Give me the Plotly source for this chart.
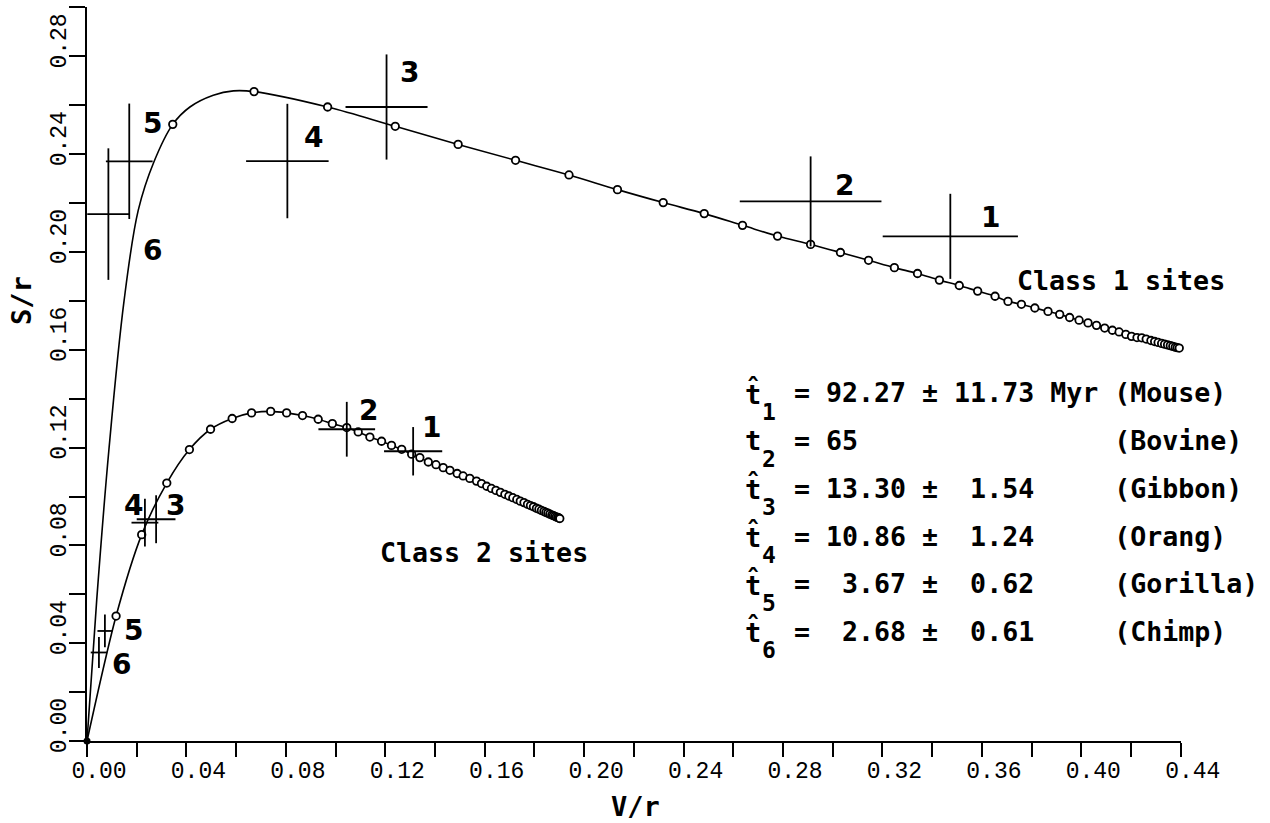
import plotly.graph_objects as go

NB = "\u00a0"

# ---------------- data ----------------
# Class 1 fitted curve: leading (non-marked) points
c1_lead_v = [0.0, 0.0039, 0.0088, 0.0149, 0.0206, 0.0269, 0.0414, 0.0508, 0.0589]
c1_lead_s = [0.0, 0.0575, 0.1190, 0.1800, 0.2170, 0.2368, 0.2593, 0.2641, 0.2659]
# Class 1 circles
c1_v = [0.0345, 0.0672, 0.0968, 0.1240, 0.1493, 0.1724, 0.1939, 0.2134, 0.2318, 0.2483,
        0.2637, 0.2778, 0.2911, 0.3031, 0.3144, 0.3248, 0.3341, 0.3429, 0.3509, 0.3583,
        0.3653, 0.3705, 0.3759, 0.3813, 0.3866, 0.3913, 0.3953, 0.3991, 0.4027, 0.4061,
        0.4094, 0.4125, 0.4152, 0.4179, 0.4202, 0.4224, 0.4243, 0.4261, 0.4280, 0.4295,
        0.4309, 0.4323, 0.4335, 0.4347, 0.4358, 0.4368, 0.4378, 0.4386, 0.4394, 0.4402,
        0.4408, 0.4414, 0.4420, 0.4424, 0.4428, 0.4432, 0.4436]
c1_s = [0.2522, 0.2656, 0.2593, 0.2514, 0.2440, 0.2375, 0.2315, 0.2255, 0.2202, 0.2157,
        0.2109, 0.2065, 0.2031, 0.1998, 0.1966, 0.1936, 0.1912, 0.1885, 0.1863, 0.1840,
        0.1819, 0.1798, 0.1786, 0.1771, 0.1757, 0.1745, 0.1732, 0.1721, 0.1710, 0.1700,
        0.1689, 0.1680, 0.1673, 0.1663, 0.1655, 0.1650, 0.1649, 0.1644, 0.1638, 0.1634,
        0.1630, 0.1626, 0.1623, 0.1620, 0.1617, 0.1614, 0.1611, 0.1609, 0.1607, 0.1604,
        0.1603, 0.1601, 0.1599, 0.1598, 0.1597, 0.1596, 0.1595]

# Class 2 circles
c2_v = [0.0117, 0.0220, 0.0321, 0.0412, 0.0497, 0.0584, 0.0662, 0.0739, 0.0803, 0.0867,
        0.0930, 0.0987, 0.1045, 0.1091, 0.1138, 0.1185, 0.1225, 0.1266, 0.1306, 0.1339,
        0.1373, 0.1404, 0.1433, 0.1460, 0.1489, 0.1513, 0.1540, 0.1567, 0.1587, 0.1608,
        0.1627, 0.1645, 0.1663, 0.1681, 0.1697, 0.1713, 0.1729, 0.1743, 0.1758, 0.1772,
        0.1784, 0.1796, 0.1808, 0.1818, 0.1828, 0.1838, 0.1846, 0.1854, 0.1862, 0.1870,
        0.1876, 0.1882, 0.1888, 0.1894, 0.1898, 0.1902]
c2_s = [0.0511, 0.0844, 0.1055, 0.1192, 0.1275, 0.1319, 0.1342, 0.1348, 0.1342, 0.1331,
        0.1316, 0.1298, 0.1282, 0.1264, 0.1243, 0.1226, 0.1209, 0.1193, 0.1173, 0.1159,
        0.1141, 0.1130, 0.1118, 0.1107, 0.1094, 0.1084, 0.1074, 0.1063, 0.1053, 0.1042,
        0.1033, 0.1025, 0.1017, 0.1009, 0.1002, 0.0995, 0.0988, 0.0981, 0.0975, 0.0968,
        0.0963, 0.0958, 0.0952, 0.0948, 0.0943, 0.0939, 0.0935, 0.0932, 0.0928, 0.0924,
        0.0922, 0.0919, 0.0916, 0.0914, 0.0912, 0.0910]

# Observed points (crosses) with errors, labels 1..6
pt_labels = ["1", "2", "3", "4", "5", "6"]
c1_pt_v = [0.3473, 0.2911, 0.1205, 0.0806, 0.0170, 0.0086]
c1_pt_s = [0.2064, 0.2207, 0.2593, 0.2372, 0.2371, 0.2155]
c1_pt_dv = [0.0272, 0.0285, 0.0165, 0.0166, 0.0094, 0.0085]
c1_pt_ds = [0.0174, 0.0184, 0.0215, 0.0234, 0.0236, 0.0269]
c1_lab_v = [0.3634, 0.3046, 0.1296, 0.0910, 0.0263, 0.0263]
c1_lab_s = [0.2143, 0.2273, 0.2736, 0.2470, 0.2525, 0.2007]

c2_pt_v = [0.1312, 0.1045, 0.0278, 0.0233, 0.0072, 0.0048]
c2_pt_s = [0.1185, 0.1275, 0.0907, 0.0893, 0.0450, 0.0362]
c2_pt_dv = [0.0117, 0.0114, 0.0078, 0.0054, 0.0030, 0.0033]
c2_pt_ds = [0.0099, 0.0112, 0.0098, 0.0098, 0.0067, 0.0063]
c2_lab_v = [0.1386, 0.1131, 0.0358, 0.0186, 0.0189, 0.0140]
c2_lab_s = [0.1284, 0.1353, 0.0964, 0.0964, 0.0450, 0.0314]

# Estimates table
est_symbols = ["t\u0302", "t", "t\u0302", "t\u0302", "t\u0302", "t\u0302"]
est_subs = ["1", "2", "3", "4", "5", "6"]
est_rows = [
    "= 92.27 ± 11.73 Myr (Mouse)",
    "= 65                (Bovine)",
    "= 13.30 ±  1.54     (Gibbon)",
    "= 10.86 ±  1.24     (Orang)",
    "=  3.67 ±  0.62     (Gorilla)",
    "=  2.68 ±  0.61     (Chimp)",
]
row_s = [0.1424, 0.1230, 0.1034, 0.0837, 0.0643, 0.0448]
sub_s = [0.1346, 0.1152, 0.0956, 0.0760, 0.0565, 0.0371]

x_ticks = [0.00, 0.04, 0.08, 0.12, 0.16, 0.20, 0.24, 0.28, 0.32, 0.36, 0.40, 0.44]
y_ticks = [0.00, 0.04, 0.08, 0.12, 0.16, 0.20, 0.24, 0.28]

# ---------------- figure ----------------
TXT = "DejaVu Sans Mono"
fig = go.Figure()

def curve(lead_v, lead_s, v, s):
    pts = sorted(zip(lead_v + v, lead_s + s))
    return [p[0] for p in pts], [p[1] for p in pts]

lv, ls = curve(c1_lead_v, c1_lead_s, c1_v, c1_s)
fig.add_trace(go.Scatter(x=lv, y=ls, mode="lines", line=dict(color="black", width=1.6, shape="spline", smoothing=1.0),
                         hoverinfo="skip"))
lv2, ls2 = curve([0.0], [0.0], c2_v, c2_s)
fig.add_trace(go.Scatter(x=lv2, y=ls2, mode="lines", line=dict(color="black", width=1.6, shape="spline", smoothing=0.8),
                         hoverinfo="skip"))

for v, s in ((c1_v, c1_s), (c2_v, c2_s)):
    fig.add_trace(go.Scatter(x=v, y=s, mode="markers", cliponaxis=False,
                             marker=dict(symbol="circle", size=7.5, color="white",
                                         line=dict(color="black", width=1.8))))

fig.add_trace(go.Scatter(x=[0.0], y=[0.0], mode="markers", cliponaxis=False,
                         marker=dict(symbol="circle", size=7, color="black")))

for v, s, dv, ds in ((c1_pt_v, c1_pt_s, c1_pt_dv, c1_pt_ds), (c2_pt_v, c2_pt_s, c2_pt_dv, c2_pt_ds)):
    fig.add_trace(go.Scatter(x=v, y=s, mode="markers", cliponaxis=False,
                             marker=dict(size=1, color="rgba(0,0,0,0)"),
                             error_x=dict(type="data", array=dv, width=0, thickness=1.8, color="black"),
                             error_y=dict(type="data", array=ds, width=0, thickness=1.8, color="black")))

ann = []
for lv_, ls_ in ((c1_lab_v, c1_lab_s), (c2_lab_v, c2_lab_s)):
    for t, x, y in zip(pt_labels, lv_, ls_):
        ann.append(dict(x=x, y=y, text=t, showarrow=False, xanchor="center", yanchor="middle",
                        font=dict(family="DejaVu Sans", size=28, color="black", weight="bold")))

ann.append(dict(x=0.3732, y=0.1884, text="Class 1 sites".replace(" ", NB), showarrow=False,
                xanchor="left", yanchor="middle", font=dict(family=TXT, size=26.6, color="black", weight="bold")))
ann.append(dict(x=0.1170, y=0.0772, text="Class 2 sites".replace(" ", NB), showarrow=False,
                xanchor="left", yanchor="middle", font=dict(family=TXT, size=26.6, color="black", weight="bold")))

for sym, sub, row, ys, yb in zip(est_symbols, est_subs, est_rows, row_s, sub_s):
    ann.append(dict(x=0.2638, y=ys, text=sym, showarrow=False, xanchor="left", yanchor="middle",
                    font=dict(family=TXT, size=27, color="black", weight="bold")))
    ann.append(dict(x=0.2745, y=yb, text=sub, showarrow=False, xanchor="center", yanchor="middle",
                    font=dict(family=TXT, size=23, color="black", weight="bold")))
    ann.append(dict(x=0.2835, y=ys, text=row.replace(" ", NB), showarrow=False, xanchor="left",
                    yanchor="middle", font=dict(family=TXT, size=26.6, color="black", weight="bold")))

# axis titles (paper coordinates)
ann.append(dict(xref="paper", yref="paper", x=-0.0594, y=0.5995, text="S/r", textangle=-90,
                showarrow=False, xanchor="center", yanchor="middle",
                font=dict(family=TXT, size=27, color="black", weight="bold")))
ann.append(dict(xref="paper", yref="paper", x=0.5014, y=-0.0886, text="V/r",
                showarrow=False, xanchor="center", yanchor="middle",
                font=dict(family=TXT, size=27, color="black", weight="bold")))

fig.update_layout(
    width=1270, height=823,
    margin=dict(l=87, r=89, t=7, b=82),
    paper_bgcolor="white", plot_bgcolor="white",
    showlegend=False,
    annotations=ann,
    xaxis=dict(range=[0, 0.4401], showgrid=False, zeroline=False, showline=True, linecolor="black",
               linewidth=2, tickmode="array", tickvals=x_ticks, ticktext=[f"{t:.2f}" for t in x_ticks],
               ticks="outside", ticklen=14, tickwidth=1.5, tickcolor="black",
               minor=dict(tickmode="linear", tick0=0, dtick=0.02, ticks="outside", ticklen=14,
                          tickwidth=1.5, tickcolor="black", showgrid=False),
               tickfont=dict(family="Liberation Mono", size=23, color="black"),
               ticklabelshift=12, ticklabelstandoff=-7),
    yaxis=dict(range=[0, 0.3002], showgrid=False, zeroline=False, showline=True, linecolor="black",
               linewidth=1.5, tickmode="array", tickvals=y_ticks, ticktext=[f"{t:.2f}" for t in y_ticks],
               ticks="outside", ticklen=16, tickwidth=1.5, tickcolor="black", tickangle=-90,
               minor=dict(tickmode="linear", tick0=0, dtick=0.02, ticks="outside", ticklen=16,
                          tickwidth=1.5, tickcolor="black", showgrid=False),
               tickfont=dict(family="Liberation Mono", size=23, color="black"),
               ticklabelshift=-12, ticklabelstandoff=-6),
)

fig.write_html("out.html", post_script="document.body.style.margin='0';",
               config={"displayModeBar": False})
